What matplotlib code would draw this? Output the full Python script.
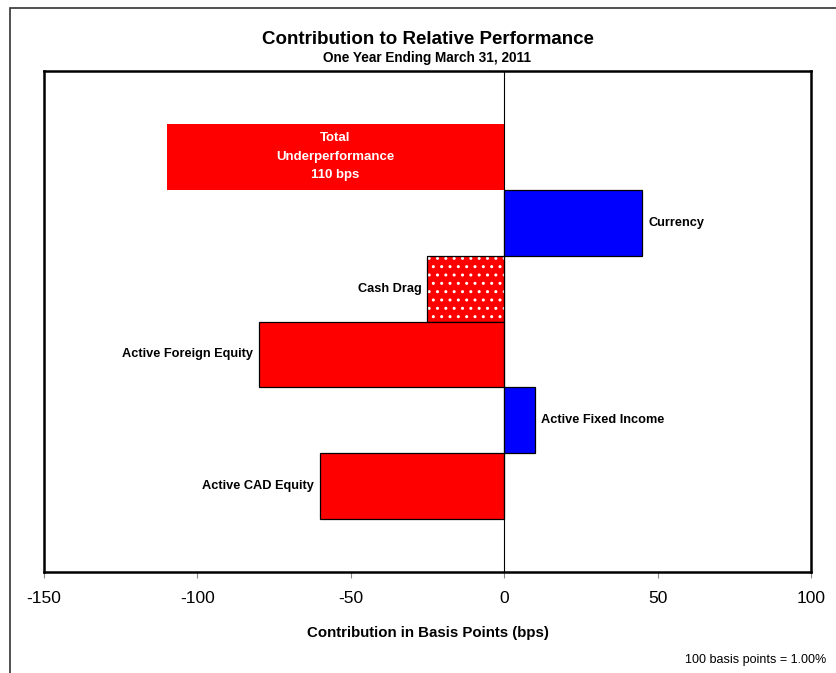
import matplotlib
matplotlib.use("Agg")
import matplotlib.pyplot as plt
from matplotlib.patches import Rectangle

plt.rcParams['font.family'] = ['Liberation Sans', 'DejaVu Sans']

categories = ["Total\nUnderperformance\n110 bps", "Currency", "Cash Drag",
              "Active Foreign Equity", "Active Fixed Income", "Active CAD Equity"]
values = [-110, 45, -25, -80, 10, -60]
colors = ["#FF0000", "#0000FF", "#FF0000", "#FF0000", "#0000FF", "#FF0000"]
hatches = [None, None, "..", None, None, None]
edges = ["none", "black", "black", "black", "black", "black"]
xticks = [-150, -100, -50, 0, 50, 100]

fig = plt.figure(figsize=(8.37, 6.73), dpi=100)
ax = fig.add_axes([44/837, 1-572/673, (811-44)/837, (572-71)/673])

ypos = list(range(len(values)))
for y, v, c, h, e in zip(ypos, values, colors, hatches, edges):
    if h:
        ax.barh(y, v, height=1.0, color=c, hatch=h, edgecolor="white", linewidth=0)
        ax.barh(y, v, height=1.0, fill=False, edgecolor=e, linewidth=0.9)
    else:
        ax.barh(y, v, height=1.0, color=c, edgecolor=e, linewidth=0.9)

ax.axvline(0, color="black", linewidth=0.8)

for y, v, lab in zip(ypos, values, categories):
    if y == 0:
        ax.text(v / 2, y, lab, ha="center", va="center", color="white",
                fontsize=9.5, fontweight="bold", linespacing=1.7)
    elif v > 0:
        ax.text(v + 2, y, lab, ha="left", va="center", fontsize=9.2, fontweight="bold")
    else:
        ax.text(v - 2, y, lab, ha="right", va="center", fontsize=9.2, fontweight="bold")

ax.set_xlim(-150, 100)
ax.set_ylim(6.3, -1.3)
ax.set_xticks(xticks)
ax.set_xticklabels([str(t) for t in xticks], fontsize=12.5)
ax.set_yticks([])
ax.tick_params(axis="x", direction="out", length=4, color="#888888", pad=10)
for s in ax.spines.values():
    s.set_linewidth(1.8)
    s.set_color("black")

ax.set_xlabel("Contribution in Basis Points (bps)", fontsize=10.8, fontweight="bold", labelpad=14)

fig.text(0.5 * (44 + 811) / 837, 1 - 39/673, "Contribution to Relative Performance",
         ha="center", va="center", fontsize=13.5, fontweight="bold")
fig.text(0.5 * (44 + 811) / 837, 1 - 58/673, "One Year Ending March 31, 2011",
         ha="center", va="center", fontsize=9.8, fontweight="bold")
fig.text(826/837, 1 - 660/673, "100 basis points = 1.00%", ha="right", va="center", fontsize=9)

fig.patches.append(Rectangle((10/837, -0.1), 1.2, 1.1 - 8/673, transform=fig.transFigure,
                             fill=False, edgecolor="#333333", linewidth=1.2))

fig.savefig("out.png", dpi=100)
